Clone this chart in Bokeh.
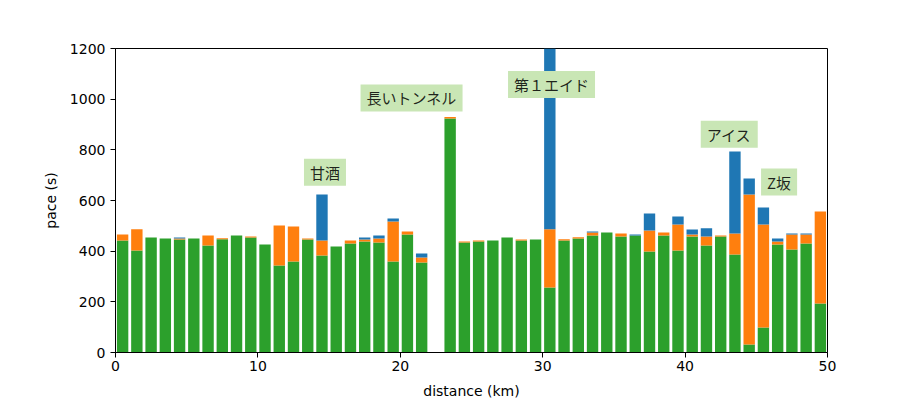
from bokeh.plotting import figure
from bokeh.models import ColumnDataSource, FixedTicker, Range1d
from bokeh.core.properties import value
from bokeh.embed import file_html
from bokeh.resources import INLINE

# distance of each 1 km lap (km); bars are drawn at the lap mid-point
km = list(range(1, 51))

# stacked pace components (s) per km
green = [442, 403, 454, 450, 446, 450, 422, 447, 462, 454,
         426, 343, 359, 446, 383, 418, 430, 438, 434, 359,
         466, 355, 0, 924, 434, 438, 442, 454, 442, 446,
         257, 442, 450, 462, 474, 458, 462, 399, 462, 403,
         458, 422, 458, 387, 32, 99, 426, 407, 430, 193]
orange = [24, 84, 0, 0, 4, 0, 40, 4, 0, 4,
          0, 158, 138, 4, 59, 0, 12, 8, 16, 158,
          12, 20, 0, 6, 4, 4, 0, 0, 4, 0,
          230, 5, 5, 12, 0, 12, 0, 83, 12, 102,
          8, 36, 4, 83, 592, 406, 12, 59, 36, 364]
blue = [0, 0, 0, 0, 4, 0, 0, 0, 0, 0,
        0, 0, 0, 0, 182, 0, 0, 8, 12, 12,
        0, 16, 0, 0, 0, 0, 0, 0, 0, 0,
        763, 0, 0, 4, 0, 0, 4, 67, 0, 32,
        20, 32, 0, 323, 63, 67, 12, 4, 4, 0]

# annotations
ann_text = ["甘酒", "長いトンネル", "第１エイド", "アイス", "Z坂"]
ann_x = [14.71, 20.79, 30.62, 43.1, 46.6]
ann_y = [712, 1005, 1058, 862, 673]

x_ticks = [0, 10, 20, 30, 40, 50]
y_ticks = [0, 200, 400, 600, 800, 1000, 1200]

src = ColumnDataSource(dict(x=[k - 0.5 for k in km], green=green,
                            orange=orange, blue=blue))

p = figure(output_backend="svg", toolbar_location=None,
           frame_width=712, frame_height=304,
           min_border_left=115, min_border_right=93,
           min_border_top=48, min_border_bottom=50,
           x_range=Range1d(0, 50), y_range=Range1d(0, 1200),
           background_fill_color="white", border_fill_color="white")

p.vbar_stack(["green", "orange", "blue"], x="x", width=0.8, source=src,
             fill_color=["#2ca02c", "#ff7f0e", "#1f77b4"], line_color=None)

ann_src = ColumnDataSource(dict(x=ann_x, y=ann_y, text=ann_text))
p.text(x="x", y="y", text="text", source=ann_src,
       text_align="center", text_baseline="middle",
       text_font=value("Noto Sans CJK JP"), text_font_size="15px",
       text_color="black", text_alpha=0.85,
       background_fill_color="#c9e6b5",
       padding=dict(left=6, right=6, top=3, bottom=3))

p.grid.grid_line_color = None
p.outline_line_color = "black"
p.outline_line_width = 1
p.outline_line_alpha = 1

p.xaxis.ticker = FixedTicker(ticks=x_ticks)
p.yaxis.ticker = FixedTicker(ticks=y_ticks)
p.xaxis.axis_label = "distance (km)"
p.yaxis.axis_label = "pace (s)"

for ax in (p.xaxis, p.yaxis):
    ax.axis_line_color = "black"
    ax.major_tick_line_color = "black"
    ax.major_tick_out = 5
    ax.major_tick_in = 0
    ax.minor_tick_line_color = None
    ax.major_label_text_font = "DejaVu Sans"
    ax.major_label_text_font_size = "14px"
    ax.major_label_text_color = "black"
    ax.axis_label_text_font = "DejaVu Sans"
    ax.axis_label_text_font_size = "14px"
    ax.axis_label_text_font_style = "normal"
    ax.axis_label_text_color = "black"

p.xaxis.major_label_standoff = 3
p.xaxis.axis_label_standoff = 9
p.yaxis.major_label_standoff = 5
p.yaxis.axis_label_standoff = 8

open("out.html", "w").write(file_html(p, INLINE))
